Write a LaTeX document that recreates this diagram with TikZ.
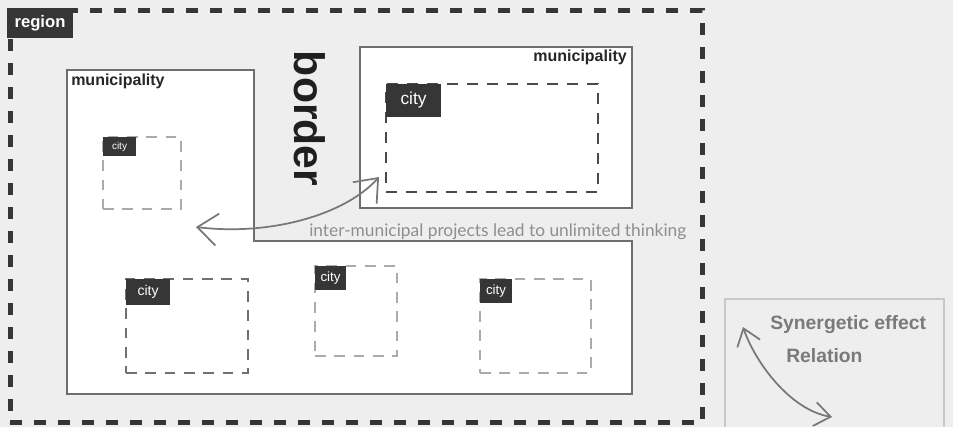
\documentclass[tikz,border=0pt]{standalone}
\usepackage{fontspec}
\setmainfont{Liberation Sans}
\newfontfamily\lightfont{Lato}
\usetikzlibrary{arrows.meta}
\definecolor{bg}{HTML}{EEEEEE}
\definecolor{dark}{HTML}{363636}
\definecolor{muni}{HTML}{6E6E6E}
\definecolor{citydark}{HTML}{4A4A4A}
\definecolor{citymid}{HTML}{707070}
\definecolor{citylight}{HTML}{ABABAB}
\definecolor{arrowgray}{HTML}{777777}
\definecolor{textlight}{HTML}{8E8E8E}
\definecolor{syntext}{HTML}{7A7A7A}
\definecolor{synborder}{HTML}{C8C8C8}
\begin{document}
\begin{tikzpicture}[x=0.75pt,y=-0.75pt,
  box/.style 2 args={minimum width=#1*0.75pt, minimum height=#2*0.75pt, inner sep=0pt, outer sep=0pt, anchor=north west},
  regionbox/.style={draw=dark, line width=3.75pt, dash pattern=on 9pt off 9pt},
  munibox/.style={draw=muni, line width=0.9pt, fill=white},
  cityA/.style={draw=citydark, line width=1.1pt, dash pattern=on 8.5pt off 6.5pt},
  cityB/.style={draw=citymid, line width=0.9pt, dash pattern=on 8pt off 6.5pt},
  cityC/.style={draw=citylight, line width=0.8pt, dash pattern=on 8pt off 6.5pt},
  tag/.style={fill=dark, text=white},
  munitext/.style={font=\bfseries\fontsize{12}{14}\selectfont, text=black!85, inner sep=0pt},
  conn/.style={draw=arrowgray, line width=1.3pt, {Straight Barb[length=15pt,width=24pt,line width=1.3pt]}-{Straight Barb[length=15pt,width=24pt,line width=1.3pt]}},
  conn2/.style={draw=arrowgray, line width=1.3pt, {Straight Barb[length=12pt,width=18pt,line width=1.3pt]}-{Straight Barb[length=12pt,width=18pt,line width=1.3pt]}},
  syn/.style={font=\bfseries\fontsize{14.5}{16}\selectfont, text=syntext, inner sep=0pt, anchor=base west}
]
\fill[bg] (0,0) rectangle (953,427);
\useasboundingbox (0,0) rectangle (953,427);
\clip (0,0) rectangle (953,427);

% region
\node[regionbox, box={692}{412}] (region) at (10,11) {};
\node[tag, box={66}{30}, font=\bfseries\fontsize{12.5}{14}\selectfont] (regiontag) at (7,8) {region};

% left municipality (L-shaped)
\draw[munibox] (67,70) -- (254,70) -- (254,241) -- (632,241) -- (632,394) -- (67,394) -- cycle;
\node[munitext, anchor=base west] (munileft) at (71,86) {municipality};

% right municipality
\node[munibox, box={272}{161}] (muniright) at (360,47) {};
\node[munitext, anchor=base east] (munirightlabel) at (627,62) {municipality};

% border
\node[font=\bfseries\fontsize{32}{34}\selectfont, text=black!88, rotate=-90, inner sep=0pt] (border) at (310,118.5) {border};

% big city
\node[cityA, box={212}{108}] (citybig) at (386,84) {};
\node[tag, box={55}{33}, font=\fontsize{13}{15}\selectfont] (citybigtag) at (386,84) {city};

% small city top-left
\node[cityC, box={78}{72}] (citysmall) at (103,137) {};
\node[tag, box={33}{19}, font=\fontsize{7.5}{9}\selectfont] (citysmalltag) at (103,137) {city};

% bottom cities
\node[cityB, box={122}{94}] (cityone) at (126,279) {};
\node[tag, box={44}{26}, font=\fontsize{10.5}{12}\selectfont] (cityonetag) at (126,279) {city};

\node[cityC, box={82}{90}] (citytwo) at (315,266) {};
\node[tag, box={31}{24}, font=\fontsize{10}{12}\selectfont] (citytwotag) at (315,266) {city};

\node[cityC, box={111}{94}] (citythree) at (480,279) {};
\node[tag, box={32}{24}, font=\fontsize{10}{12}\selectfont] (citythreetag) at (480,279) {city};

% inter-municipal arrow and text
\coordinate (a1) at (196,227);
\coordinate (a2) at (379,177);
\draw[conn] (a1) .. controls (270,236) and (345,215) .. (a2);
\node[font=\lightfont\fontsize{13}{15}\selectfont, text=textlight, inner sep=0pt, anchor=base west] (intertext) at (309,237) {inter-municipal projects lead to unlimited thinking};

% legend box
\node[draw=synborder, line width=0.8pt, box={219}{140}] (legend) at (725,299) {};
\node[syn] (synergy) at (770,330) {Synergetic effect};
\node[syn] (relation) at (786,363) {Relation};
\coordinate (b1) at (743,327);
\coordinate (b2) at (832,417);
\draw[conn2] (b1) .. controls (755,362) and (790,410) .. (b2);
\end{tikzpicture}
\end{document}
